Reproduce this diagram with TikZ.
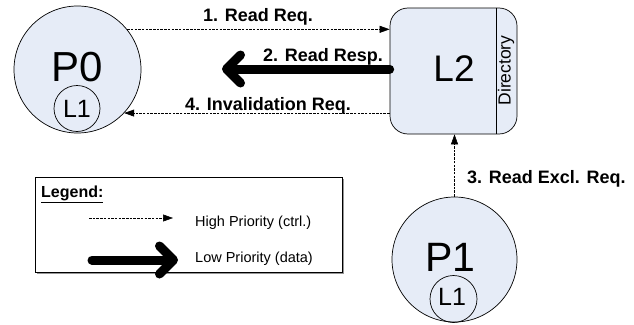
\documentclass[tikz,border=0pt]{standalone}
\usepackage{fontspec}
\setmainfont{Liberation Sans}
\usetikzlibrary{arrows.meta,calc}
\definecolor{cfill}{RGB}{230,236,247}
\definecolor{shadowgray}{RGB}{150,150,150}
\begin{document}
\begin{tikzpicture}[x=1pt,y=-1pt,
 proc/.style={circle,draw,line width=0.7pt,fill=cfill,inner sep=0pt},
 cache/.style={circle,draw,line width=0.7pt,inner sep=0pt,minimum size=46pt},
 big/.style={inner sep=0pt,font=\fontsize{42}{42}\selectfont},
 small/.style={inner sep=0pt,font=\fontsize{25}{25}\selectfont},
 ctrl/.style={line width=0.6pt,dash pattern=on 2.5pt off 1.2pt,-{Triangle[length=10pt,width=7pt]}},
 data/.style={line width=9pt,line cap=round,-{Straight Barb[length=14pt,width=28pt,line join=round,line cap=round]}},
 lbl/.style={font=\bfseries\fontsize{18}{20}\selectfont,inner sep=0pt,anchor=base west},
 leg/.style={font=\fontsize{14.5}{16}\selectfont,inner sep=0pt,anchor=base west},
]
\useasboundingbox (0,0) rectangle (634,324);
% P0
\node[proc,minimum size=127pt] (P0) at (77.5,69.5) {};
\node[big] (P0t) at (77,67) {P0};
\node[cache] (P0c) at (77,108.5) {};
\node[small] (P0ct) at (P0c) {L1};
% L2
\node[draw,line width=0.7pt,fill=cfill,rounded corners=18pt,minimum width=127pt,minimum height=126pt,inner sep=0pt] (L2) at (453.5,71) {};
\draw[line width=0.7pt] ($(L2.north east)+(-21,0)$) coordinate (d1) -- ($(L2.south east)+(-21,0)$) coordinate (d2);
\node[big,font=\fontsize{37}{37}\selectfont] (L2t) at (454,69) {L2};
\node[inner sep=0pt,rotate=90,font=\fontsize{17.5}{19}\selectfont] (dir) at (506,70.5) {Directory};
% P1
\node[proc,minimum size=125pt] (P1) at (454.5,259.5) {};
\node[big,font=\fontsize{41}{41}\selectfont] (P1t) at (450.5,257.5) {P1};
\node[cache,minimum size=47pt] (P1c) at (453.5,299) {};
\node[small] (P1ct) at (452,297) {L1};
% connectors
\draw[ctrl] (P0.39.6) -- (P0.39.6 -| L2.west);
\coordinate (r2) at (222,69);
\draw[data] (L2.west |- r2) -- (r2);
\draw[ctrl] (P0.-43.2 -| L2.west) -- (P0.-43.2);
\draw[ctrl] (P1.north) -- (P1.north |- L2.south);
% labels
\node[lbl] (l1) at (203,21.5) {1. Read Req.};
\node[lbl,anchor=base east] (l2) at (383,61) {2. Read Resp.};
\node[lbl] (l4) at (185,110) {4. Invalidation Req.};
\node[lbl] (l3) at (467,183) {3. Read Excl. Req.};
% legend
\fill[shadowgray] (37,179) rectangle (344,274);
\node[draw,line width=0.8pt,fill=white,minimum width=307pt,minimum height=95pt,inner sep=0pt] (legend) at (188.5,224.5) {};
\node[inner sep=0pt,anchor=base west,font=\bfseries\fontsize{16}{18}\selectfont] (legt) at (41,197) {\underline{Legend:}};
\coordinate (ha) at (89,218);
\coordinate (hb) at (173,218);
\draw[ctrl] (ha) -- (hb);
\node[leg] (ht) at (195,226) {High Priority (ctrl.)};
\coordinate (la) at (92,260);
\coordinate (lb) at (178,260);
\draw[data] (la) -- (lb);
\node[leg] (lt) at (195,262) {Low Priority (data)};
\end{tikzpicture}
\end{document}
